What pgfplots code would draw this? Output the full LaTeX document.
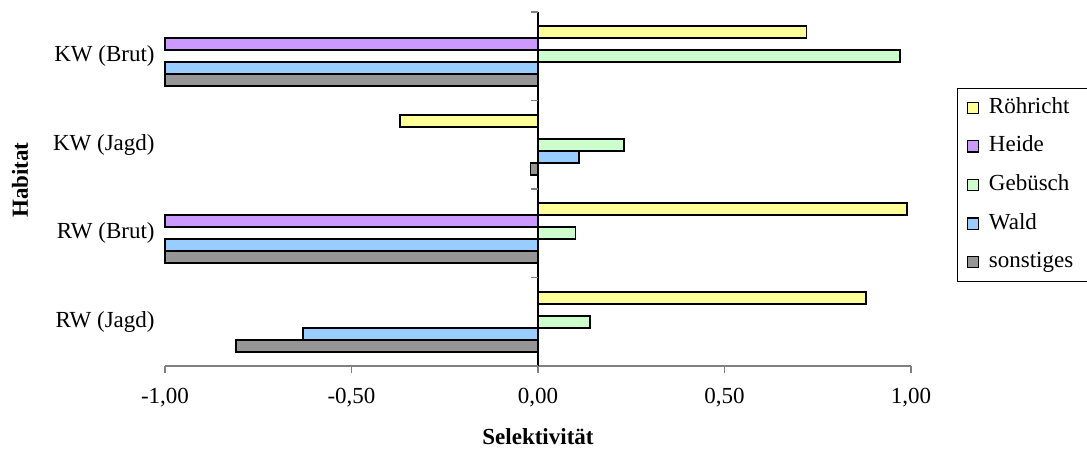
\documentclass[border=0pt]{standalone}
\usepackage{fontspec}
\setmainfont{Liberation Serif}
\usepackage{pgfplots}
\pgfplotsset{compat=1.18}
\definecolor{cRoh}{HTML}{FFFF99}
\definecolor{cHei}{HTML}{CC99FF}
\definecolor{cGeb}{HTML}{CCFFCC}
\definecolor{cWal}{HTML}{99CCFF}
\definecolor{cSon}{HTML}{969696}
\definecolor{axgray}{HTML}{808080}
\newcommand\fs{\fontsize{11.5pt}{13.8pt}\selectfont}
\begin{document}
\begin{tikzpicture}
\path[use as bounding box] (-82.5pt,-43pt) rectangle (461pt,183pt);
\begin{axis}[
  at={(0,0)}, anchor=south west,
  scale only axis, width=373pt, height=177pt,
  xbar=0pt, bar width=6pt,
  xmin=-1, xmax=1, ymin=-0.5, ymax=3.5, y dir=reverse,
  enlargelimits=false, clip=false,
  axis x line*=bottom, axis y line*=left,
  x axis line style={axgray, line width=0.6pt},
  y axis line style={draw=none},
  xtick={-1,-0.5,0,0.5,1},
  xticklabels={{-1,00},{-0,50},{0,00},{0,50},{1,00}},
  xtick style={axgray, line width=0.6pt},
  ytick style={draw=none},
  tick align=outside, major tick length=3.5pt,
  ytick={0,1,2,3},
  yticklabels={KW (Brut),KW (Jagd),RW (Brut),RW (Jagd)},
  tick label style={font=\fs},
  xticklabel style={anchor=base, yshift=-15pt},
  yticklabel style={anchor=east, inner sep=0pt, xshift=-1.5pt},
  xlabel={Selektivität}, ylabel={Habitat},
  label style={font=\fs\bfseries},
  xlabel style={at={(axis description cs:0.5,-0.2203)}, anchor=base},
  ylabel style={at={(axis description cs:-0.1944,0.525)}, anchor=center},
  every axis plot/.append style={draw=black, line width=0.8pt},
  legend cell align=left,
  legend image code/.code={\draw[#1, line width=0.6pt] (0pt,-2.8pt) rectangle (5.6pt,2.8pt);},
  legend style={at={(axis description cs:1.0617,0.7853)}, anchor=north west,
    draw=black, line width=0.5pt, font=\fs, inner xsep=4.5pt, inner ysep=4.4pt,
    row sep=8.8pt, column sep=5pt,
    nodes={inner sep=0pt, text height=8pt, text depth=2.5pt}},
]
\addplot[fill=cRoh, bar shift=12pt] coordinates {(0.72,0) (-0.37,1) (0.99,2) (0.88,3)};
\addlegendentry{\makebox[45pt][l]{Röhricht}}
\addplot[fill=cHei, bar shift=6pt] coordinates {(-1,0) (0,1) (-1,2) (0,3)};
\addlegendentry{Heide}
\addplot[fill=cGeb, bar shift=0pt] coordinates {(0.97,0) (0.23,1) (0.10,2) (0.14,3)};
\addlegendentry{Gebüsch}
\addplot[fill=cWal, bar shift=-6pt] coordinates {(-1,0) (0.11,1) (-1,2) (-0.63,3)};
\addlegendentry{Wald}
\addplot[fill=cSon, bar shift=-12pt] coordinates {(-1,0) (-0.02,1) (-1,2) (-0.81,3)};
\addlegendentry{sonstiges}
\draw[black, line width=0.7pt] (axis cs:0,-0.5) -- (axis cs:0,3.5);
\pgfplotsinvokeforeach{-0.5,0.5,1.5,2.5,3.5}{\draw[axgray, line width=0.6pt] ([xshift=-3.5pt]axis cs:0,#1) -- (axis cs:0,#1);}
\end{axis}
\end{tikzpicture}
\end{document}
